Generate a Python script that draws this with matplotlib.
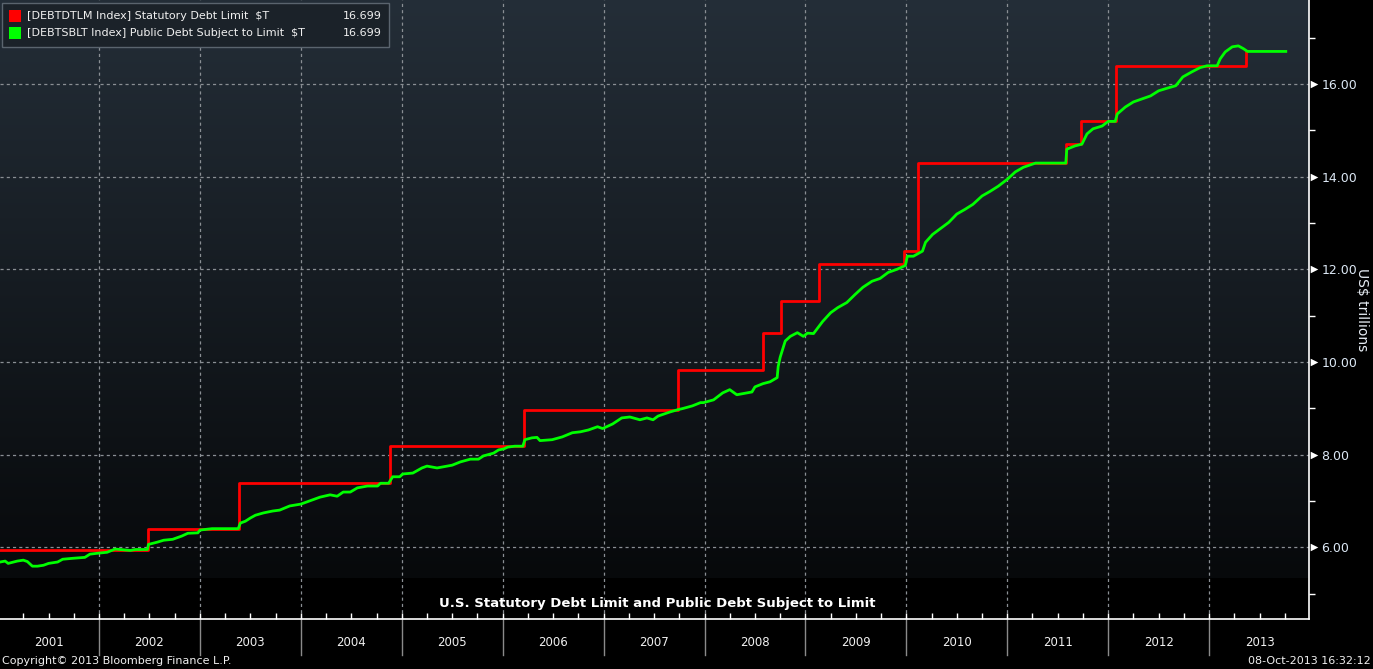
import matplotlib
matplotlib.use("Agg")
import matplotlib.pyplot as plt
import numpy as np
from matplotlib.transforms import blended_transform_factory
from matplotlib.patches import Rectangle

# ---------------- data ----------------
limit_dates = [2001.02, 2002.49, 2003.39, 2004.88, 2006.21, 2007.74, 2008.58, 2008.76,
               2009.13, 2009.98, 2010.12, 2011.58, 2011.73, 2012.08, 2013.37, 2013.38]
limit_vals = [5.95, 6.40, 7.384, 8.184, 8.965, 9.815, 10.615, 11.315,
              12.104, 12.394, 14.294, 14.694, 15.194, 16.394, 16.699, 16.699]

debt_dates = [2001.02, 2001.07, 2001.10, 2001.19, 2001.25, 2001.29, 2001.34, 2001.39, 2001.45, 2001.50,
              2001.59, 2001.64, 2001.74, 2001.86, 2001.91, 2001.99, 2002.08, 2002.16, 2002.31, 2002.36,
              2002.48, 2002.49, 2002.58, 2002.64, 2002.73, 2002.82, 2002.88, 2002.98, 2003.00, 2003.12,
              2003.38, 2003.40, 2003.45, 2003.50, 2003.55, 2003.63, 2003.72, 2003.79, 2003.89, 2004.00,
              2004.09, 2004.19, 2004.29, 2004.36, 2004.42, 2004.49, 2004.56, 2004.66, 2004.76, 2004.79,
              2004.87, 2004.91, 2004.98, 2005.01, 2005.11, 2005.20, 2005.25, 2005.35, 2005.45, 2005.50,
              2005.58, 2005.68, 2005.76, 2005.81, 2005.91, 2005.96, 2006.01, 2006.05, 2006.12, 2006.20,
              2006.22, 2006.29, 2006.34, 2006.37, 2006.49, 2006.59, 2006.69, 2006.77, 2006.85, 2006.94,
              2006.99, 2007.09, 2007.18, 2007.26, 2007.36, 2007.43, 2007.49, 2007.54, 2007.66, 2007.74,
              2007.78, 2007.88, 2007.96, 2007.99, 2008.09, 2008.18, 2008.25, 2008.32, 2008.42, 2008.47,
              2008.50, 2008.58, 2008.65, 2008.72, 2008.73, 2008.75, 2008.80, 2008.85, 2008.92, 2008.98,
              2009.02, 2009.08, 2009.17, 2009.25, 2009.32, 2009.41, 2009.49, 2009.57, 2009.66, 2009.74,
              2009.82, 2009.91, 2009.99, 2010.01, 2010.07, 2010.16, 2010.19, 2010.26, 2010.34, 2010.42,
              2010.50, 2010.58, 2010.66, 2010.75, 2010.83, 2010.91, 2011.00, 2011.08, 2011.16, 2011.28,
              2011.43, 2011.58, 2011.59, 2011.67, 2011.74, 2011.79, 2011.85, 2011.94, 2012.00, 2012.07,
              2012.09, 2012.17, 2012.25, 2012.34, 2012.42, 2012.50, 2012.59, 2012.67, 2012.74, 2012.83,
              2012.91, 2012.98, 2013.08, 2013.11, 2013.16, 2013.23, 2013.29, 2013.34, 2013.38, 2013.76]
debt_vals = [5.68, 5.70, 5.65, 5.70, 5.72, 5.69, 5.59, 5.59, 5.61, 5.65,
             5.68, 5.74, 5.76, 5.78, 5.85, 5.87, 5.89, 5.96, 5.93, 5.95,
             5.95, 6.06, 6.11, 6.15, 6.17, 6.24, 6.30, 6.31, 6.37, 6.40,
             6.40, 6.52, 6.56, 6.63, 6.69, 6.74, 6.78, 6.80, 6.89, 6.93,
             7.00, 7.08, 7.13, 7.10, 7.19, 7.19, 7.28, 7.32, 7.32, 7.38,
             7.38, 7.52, 7.52, 7.58, 7.60, 7.71, 7.75, 7.71, 7.75, 7.77,
             7.84, 7.90, 7.90, 7.97, 8.03, 8.10, 8.12, 8.16, 8.18, 8.18,
             8.32, 8.36, 8.37, 8.30, 8.32, 8.38, 8.47, 8.49, 8.53, 8.60,
             8.56, 8.66, 8.79, 8.81, 8.75, 8.79, 8.75, 8.83, 8.92, 8.97,
             8.99, 9.05, 9.12, 9.12, 9.18, 9.33, 9.40, 9.29, 9.33, 9.35,
             9.46, 9.53, 9.57, 9.66, 9.90, 10.10, 10.45, 10.55, 10.63, 10.55,
             10.62, 10.61, 10.87, 11.06, 11.17, 11.28, 11.45, 11.61, 11.74, 11.80,
             11.93, 12.00, 12.08, 12.28, 12.28, 12.39, 12.58, 12.75, 12.88, 13.01,
             13.19, 13.29, 13.40, 13.58, 13.68, 13.79, 13.94, 14.10, 14.20, 14.29,
             14.29, 14.29, 14.59, 14.66, 14.70, 14.92, 15.03, 15.09, 15.19, 15.19,
             15.35, 15.50, 15.61, 15.68, 15.74, 15.85, 15.91, 15.96, 16.15, 16.26,
             16.35, 16.39, 16.39, 16.54, 16.69, 16.80, 16.82, 16.76, 16.70, 16.70]

years = list(range(2001, 2014))
y_major = [6, 8, 10, 12, 14, 16]
y_minor = [5, 7, 9, 11, 13, 15, 17]

legend_labels = ["[DEBTDTLM Index] Statutory Debt Limit  $T",
                 "[DEBTSBLT Index] Public Debt Subject to Limit  $T"]
legend_values = ["16.699", "16.699"]
title = "U.S. Statutory Debt Limit and Public Debt Subject to Limit"

# ---------------- figure ----------------
W, H = 1373, 669
fig = plt.figure(figsize=(W / 100, H / 100), dpi=100, facecolor="black")
plot_right = 1309
plot_bottom = 619
ax = fig.add_axes([0, 1 - plot_bottom / H, plot_right / W, plot_bottom / H])
ax.set_facecolor("black")
xmin, xmax = 2001.019, 2013.99
ymin, ymax = 4.45, 17.81
ax.set_xlim(xmin, xmax)
ax.set_ylim(ymin, ymax)

# gradient background (top: dark slate, bottom: near-black), black strip at bottom
grad_bottom = 0.066
n = 256
t = np.linspace(0, 1, n)[:, None]
top = np.array([36, 46, 56]) / 255.0
bot = np.array([7, 9, 11]) / 255.0
img = (top * (1 - t) + bot * t)
img = np.repeat(img[:, None, :], 2, axis=1).reshape(n, 2, 3)
ax.imshow(img, extent=[0, 1, grad_bottom, 1], transform=ax.transAxes,
          aspect="auto", zorder=0, interpolation="bilinear")

# grid
for yv in y_major:
    ax.axhline(yv, color="#8a8f94", lw=0.9, ls=(0, (2.5, 2.5)), zorder=1)
for yr in years[1:]:
    ax.axvline(yr, color="#8a8f94", lw=0.9, ls=(0, (2.5, 2.5)), zorder=1)

# series
ax.plot(limit_dates, limit_vals, color="#ff0000", lw=2.0, drawstyle="steps-post", zorder=3)
ax.plot(debt_dates, debt_vals, color="#00ff00", lw=2.0, zorder=4)

# spines
for s in ["top", "left"]:
    ax.spines[s].set_visible(False)
ax.spines["right"].set_color("white")
ax.spines["bottom"].set_color("white")
ax.spines["right"].set_linewidth(1.2)
ax.spines["bottom"].set_linewidth(1.2)

# y axis on right
ax.yaxis.tick_right()
ax.set_yticks(y_major)
ax.set_yticklabels([f"{v:.2f}" for v in y_major])
ax.set_yticks(y_minor, minor=True)
ax.tick_params(axis="y", which="major", length=0, pad=9, labelsize=9, labelcolor="#dce8f5")
ax.tick_params(axis="y", which="minor", length=4, width=1, color="white", direction="out")
trans_y = blended_transform_factory(ax.transAxes, ax.transData)
ax.scatter([1.0 + 4.5 / plot_right] * len(y_major), y_major, marker=">", s=30, color="white",
           transform=trans_y, clip_on=False, zorder=6, linewidths=0)
fig.text(1362 / W, 1 - 310 / H, "US$ trillions", rotation=270, color="#e8eef5",
         fontsize=10, ha="center", va="center")

# x axis
ax.set_xticks([])
quarters = [yr + q / 4 for yr in years for q in range(4) if xmin < yr + q / 4 < xmax]
ax.set_xticks(quarters, minor=True)
ax.tick_params(axis="x", which="minor", length=4, width=1, color="white", direction="in")
ax.tick_params(axis="x", which="major", length=0)
trans_x = blended_transform_factory(ax.transData, fig.transFigure)
for yr in years[1:]:
    ax.plot([yr, yr], [1 - 620 / H, 1 - 655 / H], color="#8a8a8a", lw=1.0,
            transform=trans_x, clip_on=False)
for yr in years:
    ax.text(yr + 0.5, 1 - 642 / H, str(yr), transform=trans_x, ha="center", va="center",
            color="#f0f0f0", fontsize=8.5)

# title inside the plot
ax.text(657 / plot_right, 1 - 603 / plot_bottom, title, transform=ax.transAxes, ha="center",
        va="center", color="white", fontsize=9.5, fontweight="bold", zorder=7)

# footer
fig.text(2 / W, 1 - 661 / H, "Copyright\u00a9 2013 Bloomberg Finance L.P.", color="#f0f0f0",
         fontsize=8, ha="left", va="center")
fig.text(1371 / W, 1 - 661 / H, "08-Oct-2013 16:32:12", color="#f0f0f0",
         fontsize=8, ha="right", va="center")

# legend box
fig.patches.append(Rectangle((2 / W, 1 - 47 / H), 387 / W, 44 / H, transform=fig.transFigure,
                             facecolor="#1b2229", edgecolor="#5a646e", lw=1.0, zorder=8))
for i, (lab, val, col) in enumerate(zip(legend_labels, legend_values, ["#ff0000", "#00ff00"])):
    yc = 16 + i * 17
    fig.patches.append(Rectangle((9 / W, 1 - (yc + 6) / H), 12 / W, 12 / H,
                                 transform=fig.transFigure, facecolor=col, edgecolor="none",
                                 zorder=9))
    fig.text(27 / W, 1 - yc / H, lab, color="#f0f0f0", fontsize=8, ha="left", va="center",
             zorder=9)
    fig.text(382 / W, 1 - yc / H, val, color="#f0f0f0", fontsize=8, ha="right", va="center",
             zorder=9)

fig.savefig("out.png", dpi=100, facecolor="black")
